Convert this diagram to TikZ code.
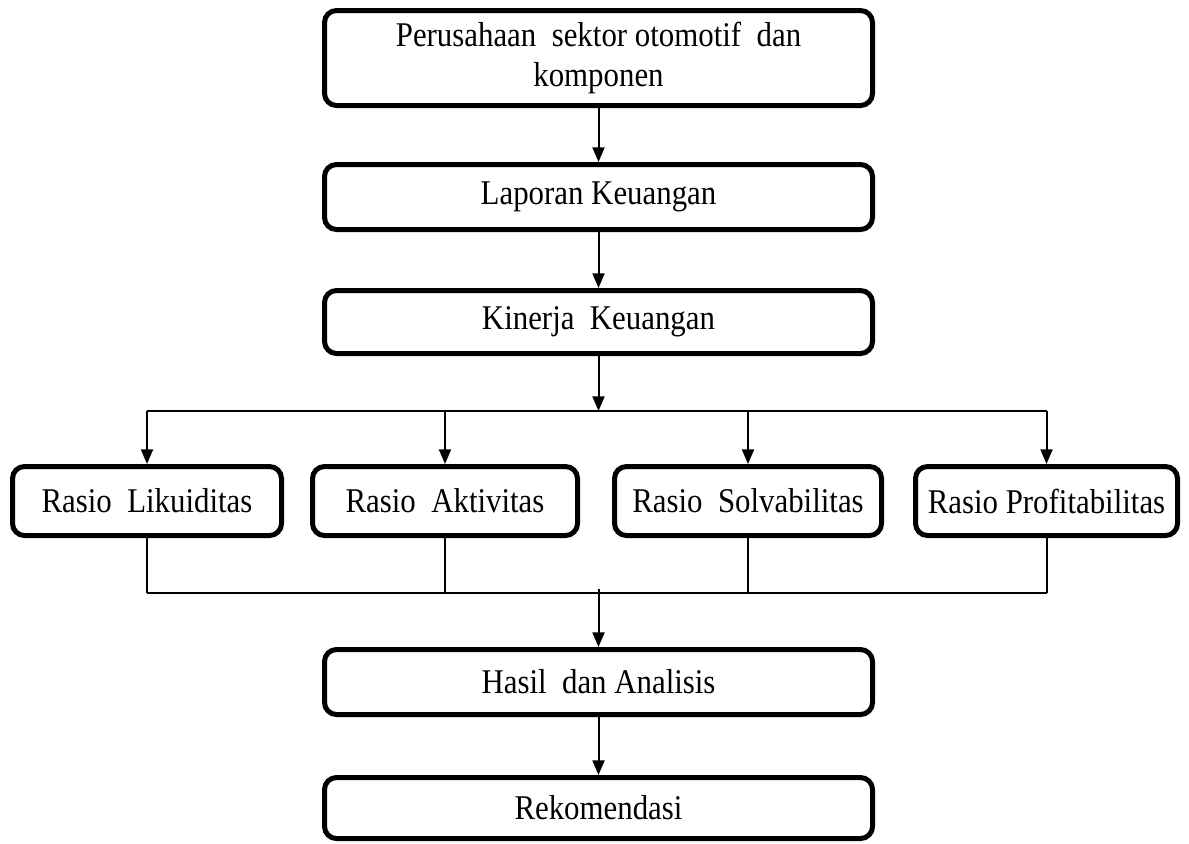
\documentclass[tikz,border=0pt]{standalone}
\usepackage{fontspec}
\setmainfont{Liberation Serif}[FakeStretch=0.89]
\usetikzlibrary{arrows.meta}
\tikzset{every picture/.style={line width=0.75pt}}
\tikzset{
  flowbox/.style={draw, line width=3.75pt, rounded corners=9pt, align=center,
    inner sep=0pt, font=\fontsize{26}{30}\selectfont},
  conn/.style={line width=1.5pt},
  arr/.style={conn, -{Triangle[length=11pt,width=9pt]}},
}

\begin{document}
\begin{tikzpicture}[x=0.75pt,y=0.75pt,yscale=-1,xscale=1]
\useasboundingbox (0,0) rectangle (1189,843);

% main column
\node [flowbox, minimum width=411pt, minimum height=71.25pt] (perusahaan) at (598.5,58)
  {Perusahaan\ \ sektor otomotif\ \ dan\\komponen};
\node [flowbox, minimum width=411pt, minimum height=48.75pt] (laporan) at (598.5,197)
  {Laporan Keuangan};
\node [flowbox, minimum width=411pt, minimum height=47.25pt] (kinerja) at (598.5,322)
  {Kinerja\ \ Keuangan};

% rasio row
\node [flowbox, minimum width=201.75pt, minimum height=51.75pt] (likuiditas) at (147,501)
  {Rasio\ \ Likuiditas};
\node [flowbox, minimum width=198.75pt, minimum height=51.75pt] (aktivitas) at (445,501)
  {Rasio\ \ Aktivitas};
\node [flowbox, minimum width=200.25pt, minimum height=51.75pt] (solvabilitas) at (748,501)
  {Rasio\ \ Solvabilitas};
\node [flowbox, minimum width=196.5pt, minimum height=51.75pt] (profitabilitas) at (1046.5,501)
  {Rasio Profitabilitas};

% bottom column
\node [flowbox, minimum width=411pt, minimum height=48.75pt] (hasil) at (598.5,682)
  {Hasil\ \ dan Analisis};
\node [flowbox, minimum width=411pt, minimum height=45.75pt] (rekomendasi) at (598.5,808)
  {Rekomendasi};

\coordinate (split) at (598.5,411);
\coordinate (join) at (598.5,593);

% connectors
\draw [arr] (perusahaan) -- (laporan);
\draw [arr] (laporan) -- (kinerja);
\draw [arr] (kinerja) -- (split);
\draw [conn] (likuiditas.north |- split) -- (profitabilitas.north |- split);
\foreach \r in {likuiditas,aktivitas,solvabilitas,profitabilitas}{
  \draw [arr] (\r.north |- split) -- (\r.north);
  \draw [conn] (\r.south) -- (\r.south |- join);
}
\draw [conn] (likuiditas.south |- join) -- (profitabilitas.south |- join);
\draw [arr] ([yshift=-3]join) -- (hasil);
\draw [arr] (hasil) -- (rekomendasi);

\end{tikzpicture}
\end{document}
